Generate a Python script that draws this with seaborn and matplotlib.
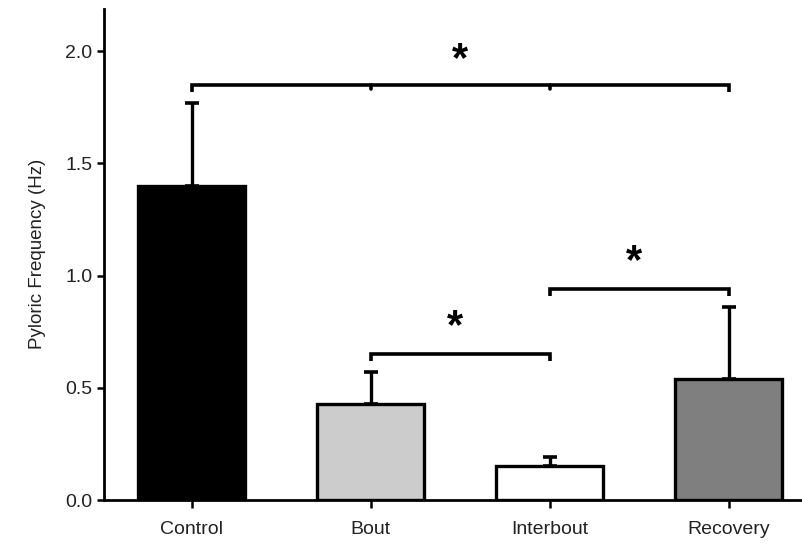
import matplotlib
matplotlib.use("Agg")
import matplotlib.pyplot as plt
import seaborn as sns
import pandas as pd

categories = ["Control", "Bout", "Interbout", "Recovery"]
means = [1.40, 0.43, 0.15, 0.54]
errors = [0.37, 0.14, 0.04, 0.32]
colors = ["#000000", "#cccccc", "#ffffff", "#7f7f7f"]
yticks = [0.0, 0.5, 1.0, 1.5, 2.0]

# significance brackets: (start idx, end idx, height, star y, star x)
brackets = [(0, 3, 1.85, 1.96, 1.5), (1, 2, 0.65, 0.77, 1.47), (2, 3, 0.94, 1.06, 2.47)]

sns.set_theme(style="ticks")
plt.rcParams["font.family"] = ["Liberation Sans", "DejaVu Sans"]

df = pd.DataFrame({"cond": categories, "freq": means})
fig = plt.figure(figsize=(8.03, 5.46), dpi=100)
ax = fig.add_axes([0.1295, 0.0842, 0.8705, 0.9])

sns.barplot(data=df, x="cond", y="freq", hue="cond", palette=colors, legend=False,
            width=0.6, edgecolor="black", linewidth=2.4, ax=ax, errorbar=None)
ax.errorbar(range(len(categories)), means, yerr=[[0] * 4, errors], fmt="none",
            ecolor="black", elinewidth=2.4, capsize=5, capthick=2.6, zorder=1)
for p in ax.patches:
    p.set_zorder(2)

for (i, j, h, sy, sx) in brackets:
    ax.plot([i, i, j, j], [h - 0.03, h, h, h - 0.03],
            color="black", lw=2.6, solid_capstyle="butt", solid_joinstyle="miter")
    for k in range(i + 1, j):
        ax.plot([k, k], [h - 0.02, h], color="black", lw=2.6)
    ax.text(sx, sy, "*", ha="center", va="center", fontsize=30, fontweight="bold",
            color="black")

ax.set_xlim(-0.49, 3.415)
ax.set_ylim(0, 2.19)
ax.set_yticks(yticks)
ax.set_yticklabels([f"{v:.1f}" for v in yticks])
ax.set_xlabel("")
ax.set_ylabel("Pyloric Frequency (Hz)", fontsize=13.5, color="#222222", labelpad=14)
ax.tick_params(axis="both", labelsize=14, colors="black", labelcolor="#222222",
               width=1.8, length=5)
ax.tick_params(axis="x", length=6, pad=9)
for s in ["top", "right"]:
    ax.spines[s].set_visible(False)
for s in ["left", "bottom"]:
    ax.spines[s].set_linewidth(2.0)
    ax.spines[s].set_color("black")

fig.savefig("out.png", dpi=100)
